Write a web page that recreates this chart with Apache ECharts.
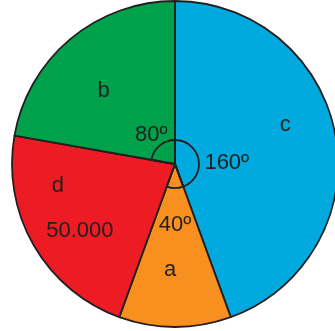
<!DOCTYPE html>
<html>
<head>
<meta charset="utf-8">
<script src="https://cdn.jsdelivr.net/npm/echarts@6/dist/echarts.min.js"></script>
<style>
    html, body {margin: 0; padding: 0; background: #fff;}
    #chart {width: 335px; height: 331px;}
</style>
</head>
<body>
<div id="chart"></div>
<script>
// 扇区数据（顺时针，从正上方开始）
var sliceNames = ['c', 'a', 'd', 'b'];
var sliceDegrees = [160, 40, 80, 80];
var sliceColors = ['#00a9de', '#f7901e', '#ed1c24', '#00a14b'];
// 角度标注，d 没有
var angleLabels = ['160º', '40º', '', '80º'];
// d 的数值
var dValueLabel = '50.000';

var INK = '#231f20';
var FONT = '"Liberation Sans", Arial, sans-serif';

// 名称标签偏移
var nameOffsets = {c: [27, -24], a: [-5, 21], d: [-22, 2], b: [-17, -8]};
// 角度标签偏移
var angleOffsets = {c: [37, 2], a: [0, 46], b: [-14, -18]};

function buildMainData() {
    var list = [];
    for (var i = 0; i < sliceNames.length; i++) {
        var name = sliceNames[i];
        var item = {
            name: name,
            value: sliceDegrees[i],
            itemStyle: {color: sliceColors[i]},
            label: {offset: nameOffsets[name]}
        };
        if (name === 'd') {
            item.label.formatter = '{n|d}\n{v|' + dValueLabel + '}';
        }
        list.push(item);
    }
    return list;
}

function buildRingData() {
    var list = [];
    for (var i = 0; i < sliceNames.length; i++) {
        var name = sliceNames[i];
        var item = {
            name: name,
            value: sliceDegrees[i],
            label: {formatter: angleLabels[i], offset: angleOffsets[name] || [0, 0]}
        };
        if (!angleLabels[i]) {
            //d 扇区不画小圆弧
            item.itemStyle = {borderWidth: 0};
            item.label.show = false;
        }
        list.push(item);
    }
    return list;
}

var myChart = echarts.init(document.getElementById('chart'), null, {renderer: 'canvas'});
var option = {
    animation: false,
    series: [{
        type: 'pie',
        center: [175, 164],
        radius: [0, 163],
        startAngle: 90,
        clockwise: true,
        avoidLabelOverlap: false,
        silent: true,
        itemStyle: {borderColor: INK, borderWidth: 1.8},
        label: {
            show: true,
            position: 'inside',
            formatter: '{b}',
            color: INK,
            fontFamily: FONT,
            fontSize: 22,
            rich: {
                n: {color: INK, fontFamily: FONT, fontSize: 22, lineHeight: 45, padding: [0, 44, 0, 0]},
                v: {color: INK, fontFamily: FONT, fontSize: 22, lineHeight: 45}
            }
        },
        labelLine: {show: false},
        emphasis: {disabled: true},
        data: buildMainData()
    }, {
        type: 'pie',
        center: [175, 164],
        radius: [0, 24],
        startAngle: 90,
        clockwise: true,
        avoidLabelOverlap: false,
        silent: true,
        itemStyle: {color: 'transparent', borderColor: INK, borderWidth: 1.8},
        label: {
            show: true,
            position: 'inside',
            color: INK,
            fontFamily: FONT,
            fontSize: 22
        },
        labelLine: {show: false},
        emphasis: {disabled: true},
        data: buildRingData()
    }]
};
myChart.setOption(option);
</script>
</body>
</html>
